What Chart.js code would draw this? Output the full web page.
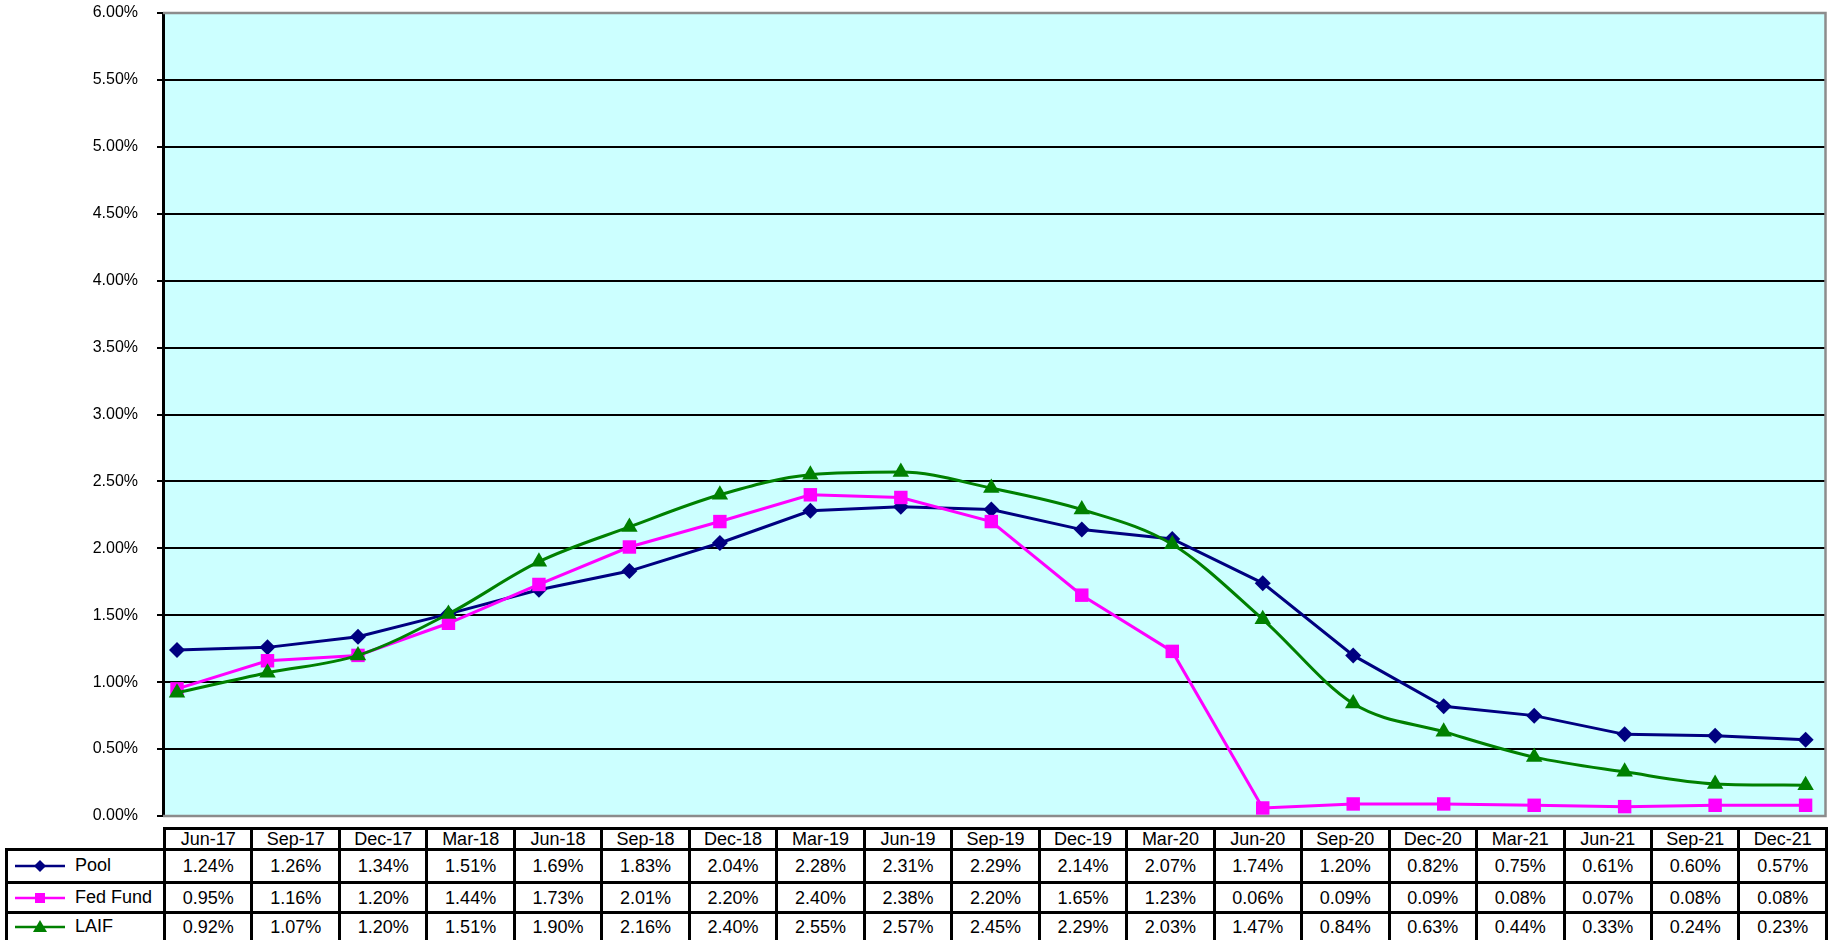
<!DOCTYPE html>
<html>
<head>
<meta charset="utf-8">
<script src="https://cdn.jsdelivr.net/npm/chart.js@4.4.0/dist/chart.umd.min.js"></script>
<style>
body { margin: 0; background: #fff; font-family: "Liberation Sans", Arial, sans-serif; }
#wrap { position: relative; width: 1835px; height: 940px; overflow: hidden; }
#caja { position: absolute; left: 0; top: 0; width: 1835px; height: 835px; }
#tabla { position: absolute; left: 5px; top: 827px; width: 1823px; border-collapse: collapse; table-layout: fixed; font-size: 18px; color: #000; background: #fff; }
#tabla td { border: 3px solid #000; text-align: center; padding: 0; white-space: nowrap; overflow: hidden; line-height: 18px; }
#tabla td.vacio { border: none; }
#tabla td.serie { text-align: left; }
#tabla td.serie svg { vertical-align: middle; margin: 0 10px 0 7px; }
</style>
</head>
<body>
<div id="wrap">
  <div id="caja"><canvas id="grafico"></canvas></div>
  <table id="tabla"></table>
</div>
<script>
const fechas = ['Jun-17', 'Sep-17', 'Dec-17', 'Mar-18', 'Jun-18', 'Sep-18', 'Dec-18', 'Mar-19', 'Jun-19', 'Sep-19',
                'Dec-19', 'Mar-20', 'Jun-20', 'Sep-20', 'Dec-20', 'Mar-21', 'Jun-21', 'Sep-21', 'Dec-21'];
const pool = [1.24, 1.26, 1.34, 1.51, 1.69, 1.83, 2.04, 2.28, 2.31, 2.29, 2.14, 2.07, 1.74, 1.20, 0.82, 0.75, 0.61, 0.60, 0.57];
const fedFund = [0.95, 1.16, 1.20, 1.44, 1.73, 2.01, 2.20, 2.40, 2.38, 2.20, 1.65, 1.23, 0.06, 0.09, 0.09, 0.08, 0.07, 0.08, 0.08];
const laif = [0.92, 1.07, 1.20, 1.51, 1.90, 2.16, 2.40, 2.55, 2.57, 2.45, 2.29, 2.03, 1.47, 0.84, 0.63, 0.44, 0.33, 0.24, 0.23];

const series = [
    { nombre: 'Pool', datos: pool, color: '#000080', forma: 'rectRot', radio: 8, orden: 2, tension: 0 },
    { nombre: 'Fed Fund', datos: fedFund, color: '#FF00FF', forma: 'rect', radio: 9.5, orden: 1, tension: 0 },
    { nombre: 'LAIF', datos: laif, color: '#008000', forma: 'triangle', radio: 9.5, orden: 0, tension: 0.3 }
];

function marcador(s) {
    let m;
    if (s.forma === 'rectRot') m = `<polygon points="25,5 31,11 25,17 19,11" fill="${s.color}"/>`;
    else if (s.forma === 'rect') m = `<rect x="20" y="6" width="10" height="10" fill="${s.color}"/>`;
    else m = `<polygon points="25,4 32,16 18,16" fill="${s.color}"/>`;
    return `<svg width="50" height="22"><line x1="0" y1="11" x2="50" y2="11" stroke="${s.color}" stroke-width="2.5"/>${m}</svg>`;
}

// tabla de datos bajo el grafico
let html = '<colgroup><col style="width:158px">' + fechas.map(() => '<col>').join('') + '</colgroup>';
html += '<tr style="height:21px"><td class="vacio"></td>' + fechas.map(f => `<td>${f}</td>`).join('') + '</tr>';
const altos = [33, 30, 29];
series.forEach((s, i) => {
    html += `<tr style="height:${altos[i]}px"><td class="serie">${marcador(s)}${s.nombre}</td>` +
        s.datos.map(v => `<td>${v.toFixed(2)}%</td>`).join('') + '</tr>';
});
document.getElementById('tabla').innerHTML = html;

const fondo = {
    id: 'fondo',
    beforeDraw(chart) {
        const { ctx, chartArea: a } = chart;
        ctx.save();
        ctx.fillStyle = '#CCFFFF';
        ctx.fillRect(a.left, a.top, a.right - a.left, a.bottom - a.top);
        ctx.restore();
    },
    beforeDatasetsDraw(chart) {
        const { ctx, chartArea: a } = chart;
        ctx.save();
        ctx.strokeStyle = '#8c8c8c';
        ctx.lineWidth = 2.5;
        ctx.beginPath();
        ctx.moveTo(a.left, a.top);
        ctx.lineTo(a.right, a.top);
        ctx.lineTo(a.right, a.bottom);
        ctx.lineTo(a.left, a.bottom);
        ctx.stroke();
        ctx.restore();
    }
};

new Chart(document.getElementById('grafico'), {
    type: 'line',
    data: {
        datasets: series.map(s => ({
            label: s.nombre,
            data: s.datos.map((v, i) => ({ x: i, y: v })),
            borderColor: s.color,
            backgroundColor: s.color,
            borderWidth: 3,
            pointStyle: s.forma,
            pointRadius: s.radio,
            pointBorderWidth: 0,
            tension: s.tension,
            cubicInterpolationMode: s.tension ? 'monotone' : 'default',
            order: s.orden,
            clip: false
        }))
    },
    options: {
        responsive: true,
        maintainAspectRatio: false,
        animation: false,
        layout: { padding: { left: 0, right: 7, top: 13, bottom: 19 } },
        plugins: { legend: { display: false }, tooltip: { enabled: false } },
        scales: {
            x: { type: 'linear', display: false, min: -0.155, max: 18.22 },
            y: {
                min: 0,
                max: 6,
                afterFit: s => { s.width = 163; s.paddingTop = 0; s.paddingBottom = 0; },
                ticks: {
                    stepSize: 0.5,
                    padding: 19,
                    color: '#000',
                    font: { family: '"Liberation Sans", Arial, sans-serif', size: 16 },
                    callback: v => v.toFixed(2) + '%'
                },
                grid: {
                    color: c => (c.tick && (c.tick.value === 6 || c.tick.value === 0)) ? '#8c8c8c' : '#000',
                    lineWidth: 2,
                    tickColor: '#000',
                    tickLength: 6
                },
                border: { display: true, color: '#000', width: 3 }
            }
        }
    },
    plugins: [fondo]
});
</script>
</body>
</html>
